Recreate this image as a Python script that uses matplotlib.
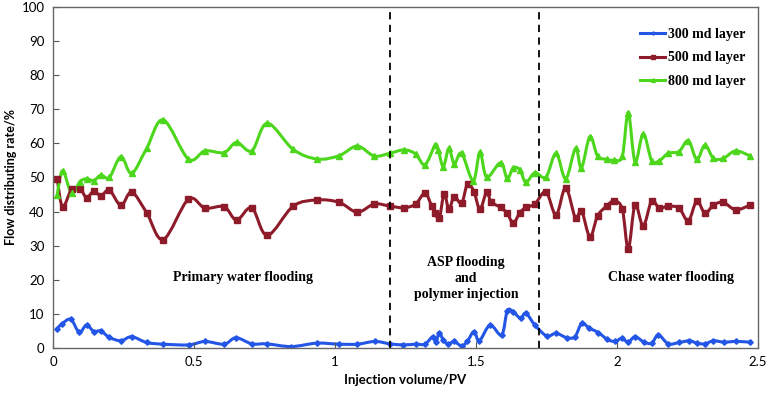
import matplotlib
matplotlib.use("Agg")
import matplotlib.pyplot as plt
from matplotlib.path import Path
from matplotlib.patches import PathPatch
from matplotlib.lines import Line2D

# ---- data ----
x_300 = [0.013, 0.031, 0.063, 0.093, 0.119, 0.145, 0.169, 0.200, 0.241, 0.279, 0.332, 0.391,
         0.482, 0.539, 0.607, 0.649, 0.705, 0.758, 0.845, 0.935, 1.015, 1.079, 1.142, 1.195,
         1.242, 1.287, 1.319, 1.347, 1.358, 1.370, 1.384, 1.402, 1.422, 1.449, 1.469, 1.493,
         1.512, 1.550, 1.591, 1.611, 1.632, 1.658, 1.677, 1.709, 1.751, 1.784, 1.822, 1.851,
         1.875, 1.902, 1.934, 1.966, 1.993, 2.017, 2.040, 2.064, 2.096, 2.123, 2.147, 2.182,
         2.221, 2.257, 2.283, 2.312, 2.342, 2.379, 2.422, 2.472]
y_300 = [5.5, 7.0, 8.4, 4.6, 6.7, 4.8, 5.0, 3.1, 2.1, 3.3, 1.6, 1.1,
         0.9, 1.9, 1.1, 3.0, 1.2, 1.2, 0.4, 1.4, 1.1, 1.1, 1.9, 1.2,
         0.9, 1.1, 1.1, 3.3, 1.6, 4.5, 2.3, 1.1, 1.9, 0.6, 1.9, 4.8,
         2.1, 6.7, 3.8, 10.9, 10.6, 8.7, 10.2, 6.7, 3.5, 4.3, 3.0, 3.3,
         7.2, 5.8, 4.5, 2.5, 1.9, 2.8, 1.7, 3.3, 1.7, 1.4, 3.8, 1.2,
         1.6, 2.1, 1.4, 1.2, 2.1, 1.7, 1.9, 1.7]

x_500 = [0.015, 0.034, 0.066, 0.096, 0.119, 0.145, 0.170, 0.200, 0.241, 0.279, 0.332, 0.391,
         0.480, 0.539, 0.607, 0.651, 0.705, 0.760, 0.852, 0.937, 1.015, 1.079, 1.139, 1.195,
         1.245, 1.286, 1.319, 1.343, 1.355, 1.370, 1.387, 1.404, 1.423, 1.449, 1.470, 1.493,
         1.514, 1.538, 1.553, 1.587, 1.611, 1.632, 1.656, 1.677, 1.709, 1.748, 1.784, 1.818,
         1.853, 1.874, 1.904, 1.931, 1.963, 1.990, 2.019, 2.040, 2.064, 2.093, 2.123, 2.150,
         2.182, 2.220, 2.253, 2.283, 2.312, 2.342, 2.377, 2.421, 2.472]
y_500 = [49.5, 41.4, 46.5, 46.7, 44.1, 46.0, 44.6, 46.3, 41.8, 45.7, 39.7, 31.8,
         43.6, 41.0, 41.4, 37.5, 41.1, 33.0, 41.6, 43.4, 42.7, 39.8, 42.2, 41.6,
         41.1, 42.2, 45.4, 41.6, 39.5, 38.0, 45.2, 40.7, 44.4, 42.4, 48.1, 45.8,
         40.7, 45.8, 42.9, 41.2, 39.5, 36.6, 39.7, 41.2, 42.2, 45.8, 39.0, 47.0,
         38.0, 40.3, 32.6, 38.7, 41.6, 43.1, 40.7, 29.0, 41.9, 35.8, 43.1, 41.0,
         41.6, 41.0, 37.3, 43.1, 39.5, 41.9, 42.7, 40.5, 41.9]

x_800 = [0.015, 0.034, 0.066, 0.096, 0.119, 0.145, 0.170, 0.200, 0.241, 0.279, 0.332, 0.391,
         0.480, 0.539, 0.607, 0.651, 0.705, 0.760, 0.852, 0.937, 1.015, 1.079, 1.139, 1.195,
         1.245, 1.286, 1.319, 1.355, 1.366, 1.384, 1.404, 1.423, 1.449, 1.490, 1.514, 1.538,
         1.587, 1.611, 1.632, 1.656, 1.677, 1.709, 1.748, 1.784, 1.818, 1.853, 1.874, 1.904,
         1.931, 1.963, 1.990, 2.019, 2.040, 2.064, 2.093, 2.123, 2.150, 2.182, 2.220, 2.253,
         2.283, 2.312, 2.342, 2.377, 2.421, 2.472]
y_800 = [44.9, 52.0, 45.4, 48.8, 49.6, 49.1, 50.7, 50.0, 56.1, 51.2, 58.5, 66.9,
         55.4, 57.8, 57.3, 60.3, 57.8, 65.9, 58.2, 55.4, 56.4, 59.2, 56.3, 57.1,
         58.1, 56.9, 53.7, 59.5, 58.1, 53.2, 58.5, 54.0, 57.1, 49.0, 57.4, 50.1,
         54.3, 49.7, 52.8, 52.2, 48.6, 51.4, 50.1, 57.1, 49.6, 58.5, 52.8, 62.0,
         56.3, 55.3, 55.1, 56.3, 69.0, 54.6, 62.8, 54.9, 54.9, 57.1, 57.6, 60.8,
         55.3, 59.5, 55.6, 55.6, 57.8, 56.3]

stage_bounds = [1.195, 1.723]
series_labels = ["300 md layer", "500 md layer", "800 md layer"]
x_ticks = [0, 0.5, 1, 1.5, 2, 2.5]
x_tick_labels = ["0", "0.5", "1", "1.5", "2", "2.5"]
y_ticks = list(range(0, 101, 10))


def smooth_path(xs, ys, t=1.0 / 6.0):
    """Excel-like smoothed line: cubic Bezier through every data point."""
    n = len(xs)
    verts = [(xs[0], ys[0])]
    codes = [Path.MOVETO]
    for i in range(n - 1):
        x0, y0 = (xs[i - 1], ys[i - 1]) if i > 0 else (xs[i], ys[i])
        x1, y1 = xs[i], ys[i]
        x2, y2 = xs[i + 1], ys[i + 1]
        x3, y3 = (xs[i + 2], ys[i + 2]) if i + 2 < n else (x2, y2)
        c1 = (x1 + (x2 - x0) * t, y1 + (y2 - y0) * t)
        c2 = (x2 - (x3 - x1) * t, y2 - (y3 - y1) * t)
        verts += [c1, c2, (x2, y2)]
        codes += [Path.CURVE4] * 3
    return Path(verts, codes)


# ---- figure ----
fig = plt.figure(figsize=(7.7, 3.99), dpi=100)
ax = fig.add_axes([0.0688, 0.128, 0.9156, 0.8545])

c_blue = "#2356E6"
c_red = "#8E1B2A"
c_green = "#4CD61C"

specs = [(x_300, y_300, c_blue, "D", 2.8),
         (x_500, y_500, c_red, "s", 4.2),
         (x_800, y_800, c_green, "^", 4.5)]
handles = []
for (xs, ys, col, mk, ms), lab in zip(specs, series_labels):
    ax.add_patch(PathPatch(smooth_path(xs, ys), facecolor="none", edgecolor=col,
                           lw=2.2, capstyle="round", joinstyle="round"))
    ax.plot(xs, ys, ls="none", color=col, marker=mk, ms=ms)
    handles.append(Line2D([], [], color=col, lw=2.2, marker=mk, ms=ms * 0.6, label=lab))

for xb in stage_bounds:
    ax.axvline(xb, color="black", lw=1.3, ls=(0, (4, 3)))

ax.set_xlim(0, 2.5)
ax.set_ylim(0, 100)
ax.set_xticks(x_ticks)
ax.set_xticklabels(x_tick_labels)
ax.set_yticks(y_ticks)
ax.tick_params(direction="in", length=4, width=0.8, colors="#555555", labelcolor="black",
               labelsize=9.5, pad=6)
for lab in ax.get_xticklabels() + ax.get_yticklabels():
    lab.set_family("Lato")
for sp in ax.spines.values():
    sp.set_color("#666666")
    sp.set_linewidth(1.0)

ax.set_xlabel("Injection volume/PV", fontsize=9.5, fontweight="bold", family="Lato", labelpad=4)
ax.set_ylabel("Flow distributing rate/%", fontsize=9, fontweight="bold", family="Lato", labelpad=3)

serif = "Liberation Serif"
ax.text(0.674, 20.8, "Primary water flooding", ha="center", va="center",
        fontsize=10, fontweight="bold", family=serif)
ax.text(1.465, 20.5, "ASP flooding\nand\npolymer injection", ha="center", va="center",
        fontsize=10, fontweight="bold", family=serif, linespacing=1.3)
ax.text(2.19, 20.8, "Chase water flooding", ha="center", va="center",
        fontsize=10, fontweight="bold", family=serif)

ax.legend(handles=handles, loc="upper right", bbox_to_anchor=(1.0, 0.975), frameon=False,
          handlelength=1.8, handletextpad=0.2, labelspacing=0.75,
          prop={"family": serif, "weight": "bold", "size": 10})

fig.savefig("out.png", dpi=100)
